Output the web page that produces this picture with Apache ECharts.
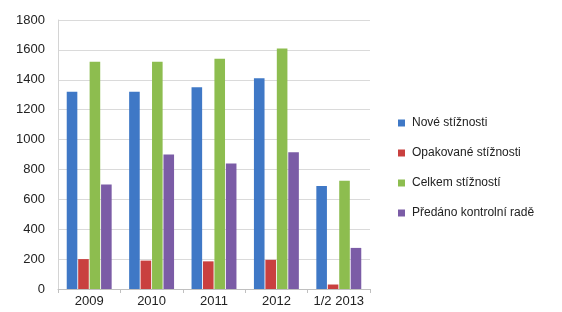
<!DOCTYPE html>
<html><head><meta charset="utf-8">
<script src="https://cdn.jsdelivr.net/npm/echarts@6/dist/echarts.min.js"></script>
<style>html,body{margin:0;padding:0;background:#fff}#c{width:562px;height:312px}</style>
</head><body><div id="c"></div>
<script>
const categories = ['2009', '2010', '2011', '2012', '1/2 2013'];
const seriesNames = ['Nové stížnosti', 'Opakované stížnosti', 'Celkem stížností', 'Předáno kontrolní radě'];
const nove = [1320, 1320, 1350, 1410, 690];
const opakovane = [200, 190, 185, 195, 30];
const celkem = [1520, 1520, 1540, 1610, 725];
const predano = [700, 900, 840, 915, 275];
const yTicks = [0, 200, 400, 600, 800, 1000, 1200, 1400, 1600, 1800];
const colors = ['#3f78c6', '#c9403f', '#8dbd4f', '#7b5ca6'];
const values = [nove, opakovane, celkem, predano];

const chart = echarts.init(document.getElementById('c'), null, {renderer: 'canvas'});
chart.setOption({
  animation: false,
  color: colors,
  textStyle: {fontFamily: 'Liberation Sans, Arial, sans-serif'},
  grid: {left: 58, right: 192, top: 20, bottom: 23, containLabel: false},
  legend: {
    orient: 'vertical', left: 393, top: 112, itemGap: 18,
    itemWidth: 7, itemHeight: 7, icon: 'rect',
    textStyle: {fontSize: 12, color: '#222', padding: [0, 0, 0, 2]},
    data: seriesNames
  },
  xAxis: {
    type: 'category', data: categories,
    axisLine: {lineStyle: {color: '#c0c0c0'}},
    axisTick: {show: true, length: 4, lineStyle: {color: '#c0c0c0'}},
    axisLabel: {fontSize: 13, color: '#222', margin: 6, interval: 0}
  },
  yAxis: {
    type: 'value', min: yTicks[0], max: yTicks[yTicks.length - 1], interval: 200,
    axisLine: {show: true, lineStyle: {color: '#d4d4d4'}},
    axisTick: {show: false},
    splitLine: {lineStyle: {color: '#dadada'}},
    axisLabel: {fontSize: 13, color: '#222', margin: 13, formatter: v => String(v)}
  },
  series: seriesNames.map((n, i) => ({
    name: n, type: 'bar', data: values[i],
    barGap: '8%', barCategoryGap: '28%'
  }))
});
</script></body></html>
